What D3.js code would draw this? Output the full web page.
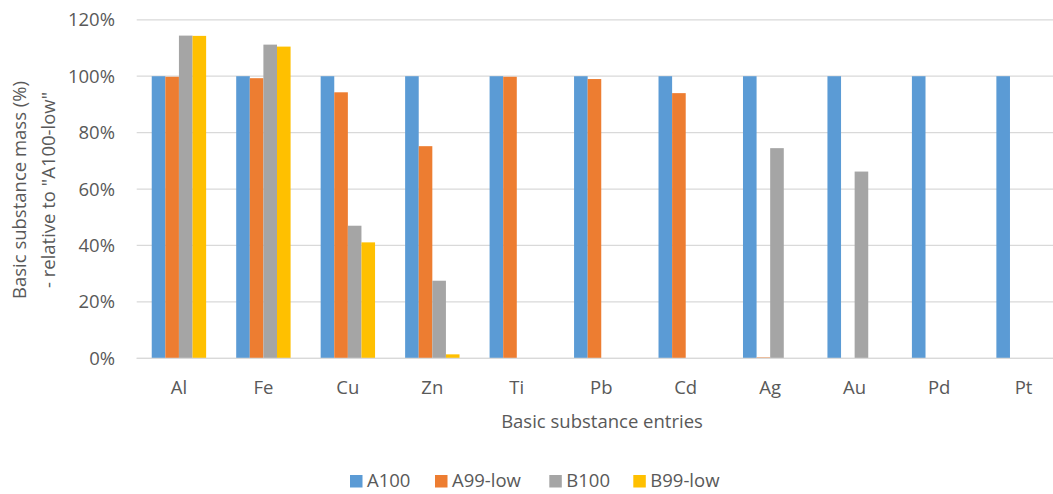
<!DOCTYPE html>
<html>
<head>
<meta charset="utf-8">
<script src="https://cdn.jsdelivr.net/npm/d3@7"></script>
<style>
  body { margin: 0; background: #fff; }
  svg { display: block; font-family: "Open Sans", sans-serif; }
</style>
</head>
<body>
<svg id="chart" width="1053" height="494"></svg>
<script>
// chart data
const categories = ["Al", "Fe", "Cu", "Zn", "Ti", "Pb", "Cd", "Ag", "Au", "Pd", "Pt"]
const seriesNames = ["A100", "A99-low", "B100", "B99-low"]
const a100 = [100, 100, 100, 100, 100, 100, 100, 100, 100, 100, 100]
const a99low = [99.8, 99.3, 94.3, 75.2, 99.8, 99.0, 94.0, 0.3, 0, 0, 0]
const b100 = [114.4, 111.2, 47.0, 27.5, 0, 0, 0, 74.5, 66.2, 0, 0]
const b99low = [114.3, 110.5, 41.1, 1.4, 0, 0, 0, 0, 0, 0, 0]
const yTicks = [0, 20, 40, 60, 80, 100, 120]

const colors = ["#5B9BD5", "#ED7D31", "#A5A5A5", "#FFC000"]
const allSeries = [a100, a99low, b100, b99low]

const svg = d3.select("#chart")
const margin = { left: 136.7, right: 1065.8, top: 19.8, bottom: 358.3 }
const textColor = "#595959"
const fontSize = 18.5

const x0 = d3.scaleBand()
  .domain(categories)
  .range([margin.left, margin.right])
  .paddingInner(0.356)
  .paddingOuter(0.178)

const x1 = d3.scaleBand()
  .domain(seriesNames)
  .range([0, x0.bandwidth()])

const y = d3.scaleLinear()
  .domain([0, 120])
  .range([margin.bottom, margin.top])

// gridlines
svg.append("g")
  .selectAll("line")
  .data(yTicks)
  .join("line")
  .attr("x1", margin.left)
  .attr("x2", margin.right)
  .attr("y1", (d) => y(d))
  .attr("y2", (d) => y(d))
  .attr("stroke", "#D9D9D9")
  .attr("stroke-width", 1.3)

// y tick labels
svg.append("g")
  .selectAll("text")
  .data(yTicks)
  .join("text")
  .attr("x", 115)
  .attr("y", (d) => y(d))
  .attr("dy", "0.35em")
  .attr("text-anchor", "end")
  .attr("fill", textColor)
  .attr("font-size", fontSize)
  .text((d) => d + "%")

// bars
const groups = svg.append("g")
  .selectAll("g")
  .data(categories)
  .join("g")
  .attr("transform", (d) => `translate(${x0(d)},0)`)

groups.selectAll("rect")
  .data((d, i) => seriesNames.map((s, j) => ({ s, v: allSeries[j][i], c: colors[j] })))
  .join("rect")
  .attr("x", (d) => x1(d.s))
  .attr("width", x1.bandwidth())
  .attr("y", (d) => y(d.v))
  .attr("height", (d) => y(0) - y(d.v))
  .attr("fill", (d) => d.c)

// category axis line on top of bars
svg.append("line")
  .attr("x1", margin.left)
  .attr("x2", margin.right)
  .attr("y1", y(0))
  .attr("y2", y(0))
  .attr("stroke", "#D9D9D9")
  .attr("stroke-width", 1.3)

// category labels
svg.append("g")
  .selectAll("text")
  .data(categories)
  .join("text")
  .attr("x", (d) => x0(d) + x0.bandwidth() / 2)
  .attr("y", 388)
  .attr("dy", "0.35em")
  .attr("text-anchor", "middle")
  .attr("fill", textColor)
  .attr("font-size", fontSize)
  .text((d) => d)

// axis titles
svg.append("text")
  .attr("x", 602)
  .attr("y", 422)
  .attr("dy", "0.35em")
  .attr("text-anchor", "middle")
  .attr("fill", textColor)
  .attr("font-size", fontSize)
  .text("Basic substance entries")

const yTitle = svg.append("text")
  .attr("transform", "translate(0,190) rotate(-90)")
  .attr("text-anchor", "middle")
  .attr("fill", textColor)
  .attr("font-size", fontSize)

yTitle.append("tspan")
  .attr("x", 0)
  .attr("y", 20)
  .attr("dy", "0.35em")
  .text("Basic substance mass (%)")

yTitle.append("tspan")
  .attr("x", 0)
  .attr("y", 49)
  .attr("dy", "0.35em")
  .text("- relative to \"A100-low\"")

// legend
const legendX = [350, 435, 549.3, 633.3]
const legend = svg.append("g")
  .selectAll("g")
  .data(seriesNames)
  .join("g")
  .attr("transform", (d, i) => `translate(${legendX[i]},475)`)

legend.append("rect")
  .attr("width", 12.5)
  .attr("height", 12.5)
  .attr("fill", (d, i) => colors[i])

legend.append("text")
  .attr("x", 17)
  .attr("y", 6)
  .attr("dy", "0.35em")
  .attr("fill", textColor)
  .attr("font-size", fontSize)
  .text((d) => d)
</script>
</body>
</html>
